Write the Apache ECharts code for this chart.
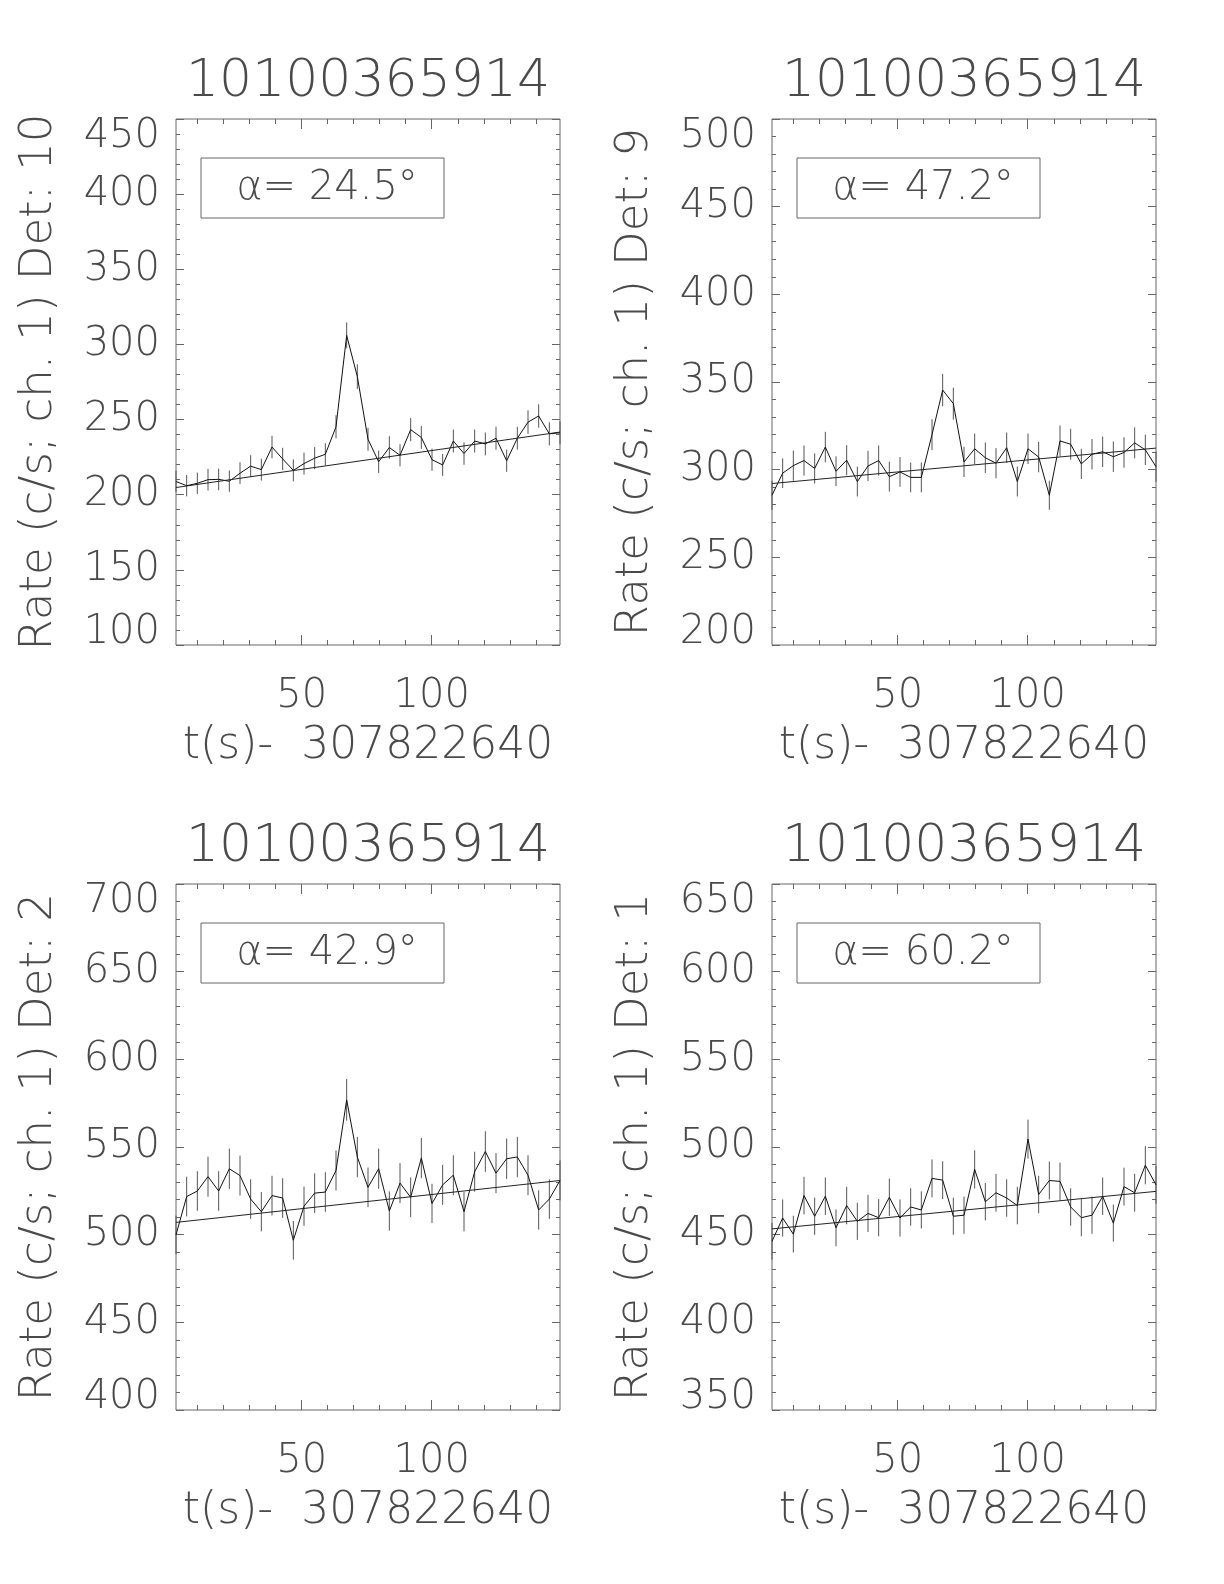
<!DOCTYPE html>
<html>
<head>
<meta charset="utf-8">
<script src="https://cdn.jsdelivr.net/npm/echarts@6/dist/echarts.min.js"></script>
<style>
  html, body { margin: 0; padding: 0; background: #fff; }
  #chart { width: 1224px; height: 1584px; }
</style>
</head>
<body>
<div id="chart"></div>
<script>
// bin centres, seconds after 307822640
const times = [1.7, 5.8, 9.9, 14.0, 18.1, 22.2, 26.3, 30.4, 34.5, 38.6, 42.7, 46.8, 50.9, 55.0, 59.1, 63.2, 67.3, 71.4, 75.5,
  79.6, 83.7, 87.8, 91.9, 96.0, 100.1, 104.2, 108.3, 112.4, 116.5, 120.6, 124.7, 128.8, 132.9, 137.0, 141.1, 145.2, 149.3]

const detectors = [10, 9, 2, 1]
const alphas = ['24.5', '47.2', '42.9', '60.2']
const obsId = '10100365914'
const timeOffset = '307822640'

// y axis ranges [min, max]
const yRanges = [[100, 450], [200, 500], [400, 700], [350, 650]]

const rateDet10 = [208.8, 206.0, 207.6, 210.0, 210.2, 209.0, 214.3, 219.0, 216.7, 231.7, 223.8, 216.2, 220.7, 224.3, 226.9, 245.2, 306.0, 278.6, 236.9,
  221.9, 231.4, 226.2, 243.3, 238.1, 223.3, 219.8, 235.7, 227.4, 235.7, 233.8, 237.6, 222.6, 237.6, 248.3, 252.4, 240.5, 241.2]
const errDet10 = [7.1, 7.1, 7.1, 7.2, 7.2, 7.1, 7.2, 7.3, 7.3, 7.5, 7.4, 7.3, 7.3, 7.4, 7.4, 7.7, 8.6, 8.2, 7.6,
  7.4, 7.5, 7.4, 7.7, 7.6, 7.4, 7.3, 7.6, 7.5, 7.6, 7.6, 7.6, 7.4, 7.6, 7.8, 7.8, 7.7, 7.7]

const rateDet9 = [285.4, 298.0, 302.3, 305.2, 300.7, 312.9, 299.1, 305.4, 293.2, 302.1, 305.2, 296.0, 298.7, 295.6, 295.6, 320.0, 345.4, 337.7, 304.4,
  311.9, 306.8, 303.7, 312.5, 293.2, 311.9, 307.2, 285.4, 316.4, 314.5, 303.3, 308.8, 310.2, 307.4, 309.8, 315.3, 311.3, 301.7]
const errDet9 = [8.3, 8.5, 8.6, 8.6, 8.6, 8.7, 8.5, 8.6, 8.5, 8.6, 8.6, 8.5, 8.5, 8.5, 8.5, 8.8, 9.2, 9.1, 8.6,
  8.7, 8.7, 8.6, 8.7, 8.5, 8.7, 8.7, 8.3, 8.8, 8.8, 8.6, 8.7, 8.7, 8.7, 8.7, 8.8, 8.7, 8.6]

const rateDet2 = [499.9, 521.7, 524.9, 533.1, 524.9, 537.6, 533.7, 520.3, 513.1, 522.3, 520.9, 496.8, 516.2, 523.7, 524.3, 536.6, 576.9, 544.3, 527.0,
  537.6, 513.5, 529.4, 521.3, 543.7, 517.8, 528.4, 533.9, 513.1, 535.9, 547.4, 535.1, 543.3, 544.3, 533.9, 514.1, 520.3, 530.9]
const errDet2 = [11.0, 11.3, 11.3, 11.4, 11.3, 11.5, 11.4, 11.3, 11.2, 11.3, 11.3, 11.0, 11.2, 11.3, 11.3, 11.4, 11.9, 11.5, 11.3,
  11.5, 11.2, 11.4, 11.3, 11.5, 11.2, 11.4, 11.4, 11.2, 11.4, 11.6, 11.4, 11.5, 11.5, 11.4, 11.2, 11.3, 11.4]

const rateDet1 = [446.2, 459.5, 450.3, 472.3, 460.5, 471.9, 453.9, 466.6, 457.6, 462.1, 459.7, 471.3, 459.5, 465.8, 464.1, 482.1, 481.1, 460.5, 461.1,
  487.2, 468.8, 473.9, 470.9, 466.6, 504.5, 472.9, 480.9, 480.4, 465.8, 459.7, 461.1, 471.9, 456.6, 477.4, 473.9, 489.6, 478.4]
const errDet1 = [10.4, 10.6, 10.5, 10.7, 10.6, 10.7, 10.5, 10.7, 10.6, 10.6, 10.6, 10.7, 10.6, 10.7, 10.6, 10.8, 10.8, 10.6, 10.6,
  10.9, 10.7, 10.8, 10.7, 10.7, 11.1, 10.7, 10.8, 10.8, 10.7, 10.6, 10.6, 10.7, 10.6, 10.8, 10.8, 10.9, 10.8]

// background fit, value at first and last bin
const fitDet10 = [204.8, 241.7]
const fitDet9 = [292.1, 312.3]
const fitDet2 = [507.0, 530.9]
const fitDet1 = [453.3, 474.7]

const rates = [rateDet10, rateDet9, rateDet2, rateDet1]
const errors = [errDet10, errDet9, errDet2, errDet1]
const fits = [fitDet10, fitDet9, fitDet2, fitDet1]

const majorX = [50, 100]
const minorX = [10, 20, 30, 40, 60, 70, 80, 90, 110, 120, 130, 140]

const FONT = "'DejaVu Sans', sans-serif"
const TXT = '#4a4a4a'
const FRAME = '#666'

const cols = [176, 772]
const rows = [119, 884]
const W = 384
const H = 526

const grids = []
const xAxes = []
const yAxes = []
const series = []
const graphics = []

const xMin = times[0]
const xMax = times[times.length - 1]

for (let p = 0; p < 4; p++) {
  const left = cols[p % 2]
  const top = rows[Math.floor(p / 2)]
  const [yMin, yMax] = yRanges[p]

  grids.push({ left, top, width: W, height: H, show: true, borderColor: FRAME, borderWidth: 1, backgroundColor: 'transparent' })
  const g1 = grids.length - 1

  const xBase = { type: 'value', min: xMin, max: xMax, axisLine: { show: false }, splitLine: { show: false } }
  // main x axes (major ticks + labels)
  xAxes.push({
    ...xBase, gridIndex: g1, position: 'bottom',
    axisTick: { show: true, inside: true, length: 10, customValues: majorX, lineStyle: { color: FRAME } },
    axisLabel: { customValues: majorX, margin: 32, color: TXT, fontSize: 40, fontWeight: 200, fontFamily: FONT },
    name: 't(s)-  ' + timeOffset, nameLocation: 'middle', nameGap: 80,
    nameTextStyle: { color: TXT, fontSize: 44, fontWeight: 200, fontFamily: FONT },
  })
  xAxes.push({
    ...xBase, gridIndex: g1, position: 'top',
    axisTick: { show: true, inside: true, length: 10, customValues: majorX, lineStyle: { color: FRAME } },
    axisLabel: { show: false, customValues: majorX },
  })
  // overlay grid carrying the minor x ticks
  grids.push({ left, top, width: W, height: H, show: false })
  const g2 = grids.length - 1
  xAxes.push({
    ...xBase, gridIndex: g2, position: 'bottom',
    axisTick: { show: true, inside: true, length: 5, customValues: minorX, lineStyle: { color: FRAME } },
    axisLabel: { show: false, customValues: minorX },
  })
  xAxes.push({
    ...xBase, gridIndex: g2, position: 'top',
    axisTick: { show: true, inside: true, length: 5, customValues: minorX, lineStyle: { color: FRAME } },
    axisLabel: { show: false, customValues: minorX },
  })

  const yBase = {
    type: 'value', min: yMin, max: yMax, interval: 50,
    axisLine: { show: false }, splitLine: { show: false },
    axisTick: { show: true, inside: true, length: 8, lineStyle: { color: FRAME } },
    minorTick: { show: true, splitNumber: 5, length: 4, lineStyle: { color: FRAME } },
  }
  yAxes.push({
    ...yBase, gridIndex: g1, position: 'left',
    axisLabel: {
      margin: 16, color: TXT, fontSize: 40, fontWeight: 200, fontFamily: FONT,
      lineHeight: 24, padding: [6, 0, 0, 0],
      verticalAlignMinLabel: 'bottom', verticalAlignMaxLabel: 'top',
    },
    name: 'Rate (c/s; ch. 1) Det: ' + detectors[p], nameLocation: 'middle', nameGap: 114, nameRotate: 90,
    nameTextStyle: { color: TXT, fontSize: 45, fontWeight: 200, fontFamily: FONT },
  })
  yAxes.push({ ...yBase, gridIndex: g1, position: 'right', axisLabel: { show: false } })
  yAxes.push({ type: 'value', gridIndex: g2, min: yMin, max: yMax, show: false })

  const xi = xAxes.length - 4
  const yi = yAxes.length - 3

  series.push({
    type: 'custom', xAxisIndex: xi, yAxisIndex: yi, z: 2,
    data: times.map((t, i) => [t, rates[p][i] - errors[p][i], rates[p][i] + errors[p][i]]),
    renderItem: (params, api) => {
      const a = api.coord([api.value(0), api.value(1)])
      const b = api.coord([api.value(0), api.value(2)])
      return { type: 'line', shape: { x1: a[0], y1: a[1], x2: b[0], y2: b[1] }, style: { stroke: '#555', lineWidth: 1 } }
    },
  })
  series.push({
    type: 'line', xAxisIndex: xi, yAxisIndex: yi, z: 3,
    data: times.map((t, i) => [t, rates[p][i]]),
    showSymbol: false, lineStyle: { color: '#111', width: 1 },
  })
  series.push({
    type: 'line', xAxisIndex: xi, yAxisIndex: yi, z: 3,
    data: [[xMin, fits[p][0]], [xMax, fits[p][1]]],
    showSymbol: false, lineStyle: { color: '#222', width: 1 },
  })

  // panel title
  graphics.push({
    type: 'text', x: left + W / 2, y: top - 37,
    style: { text: obsId, align: 'center', verticalAlign: 'middle', fill: TXT, fontSize: 52, fontWeight: 200, fontFamily: FONT },
  })
  // angle box
  graphics.push({
    type: 'rect', shape: { x: left + 25, y: top + 39, width: 243, height: 60 },
    style: { fill: 'transparent', stroke: FRAME, lineWidth: 1 },
  })
  graphics.push({
    type: 'text', x: left + 25 + 126, y: top + 70,
    style: { text: 'α= ' + alphas[p] + '°', align: 'center', verticalAlign: 'middle', fill: TXT, fontSize: 40, fontWeight: 200, fontFamily: FONT },
  })
}

const chart = echarts.init(document.getElementById('chart'))
chart.setOption({
  animation: false,
  backgroundColor: '#fff',
  grid: grids,
  xAxis: xAxes,
  yAxis: yAxes,
  series,
  graphic: graphics,
})
</script>
</body>
</html>
